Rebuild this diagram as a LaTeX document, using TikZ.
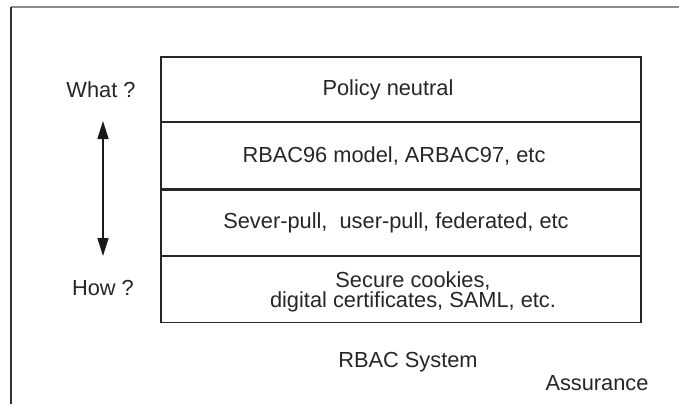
\documentclass[tikz,border=0pt]{standalone}
\usepackage{fontspec}
\setmainfont{Liberation Sans}
\usetikzlibrary{arrows.meta}
\tikzset{
	layertext/.style={font=\fontsize{10.9}{10}\selectfont, text=black!85, align=center, inner sep=0pt},
	sidetext/.style={font=\fontsize{10.9}{10}\selectfont, text=black!85, inner sep=0pt},
}

\begin{document}
\begin{tikzpicture}[x=0.5pt, y=-0.5pt]
		%%%%% START %%%%%
		\useasboundingbox (0,0) rectangle (679,404);
		
		\draw[line width=1pt, color=black!45] (11, 7) -- (679, 7);
		\draw[line width=1pt, color=black!80] (11, 7) -- (11, 404);
		
		\draw[line width=0.8pt, color=black!85] (161, 57) rectangle (641, 322.5);
		\draw[line width=0.8pt, color=black!85] (161, 122) -- (641, 122);
		\draw[line width=1.6pt, color=black!85] (161, 189.3) -- (641, 189.3);
		\draw[line width=0.8pt, color=black!85] (161, 256) -- (641, 256);
		
		\node[layertext] (policy) at (388, 89.5) {Policy neutral};
		\node[layertext] (model) at (394, 155.5) {RBAC96 model, ARBAC97, etc};
		\node[layertext] (arch) at (396, 222.5) {Sever-pull,\ \ user-pull, federated, etc};
		\node[layertext] (mech) at (413, 291.5) {Secure cookies,\\digital certificates, SAML, etc.};
		
		\node[sidetext] (what) at (101, 90) {What ?};
		\node[sidetext] (how) at (103, 288) {How ?};
		\coordinate (uptip) at (103, 121);
		\coordinate (downtip) at (103, 256);
		\draw[line width=0.8pt, color=black!90, {Triangle[length=9pt, width=5.5pt]}-{Triangle[length=9pt, width=5.5pt]}] (uptip) -- (downtip);
		
		\node[sidetext] (system) at (408, 362) {RBAC System};
		\node[sidetext] (assurance) at (597, 383) {Assurance};
		
		%%%%% END %%%%%
	\end{tikzpicture}
\end{document}
